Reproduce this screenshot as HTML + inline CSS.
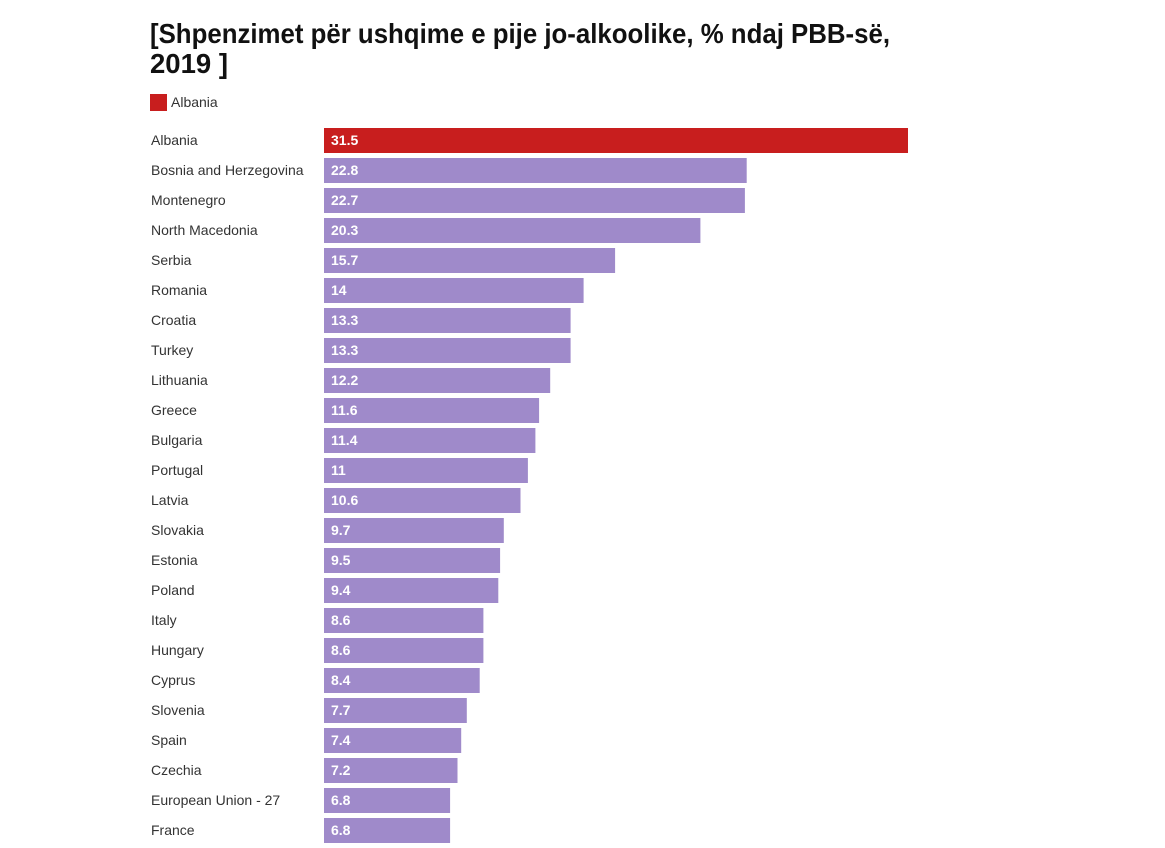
<!DOCTYPE html>
<html><head><meta charset="utf-8"><style>
html,body{margin:0;padding:0;background:#fff;}
svg{display:block;font-family:"Liberation Sans",sans-serif;}
.l{font-size:14px;fill:#333}
.v{font-size:14px;font-weight:bold;fill:#fff}
.p{fill:#9f8aca}
</style></head><body>
<svg width="1165" height="848" viewBox="0 0 1165 848">
<text x="150" y="43" font-size="28" font-weight="bold" fill="#111" textLength="740" lengthAdjust="spacingAndGlyphs">[Shpenzimet për ushqime e pije jo-alkoolike, % ndaj PBB-së,</text>
<text x="150" y="73" font-size="28" font-weight="bold" fill="#111" textLength="78" lengthAdjust="spacingAndGlyphs">2019 ]</text>
<rect x="150" y="94" width="17" height="17" fill="#c81e1e"/>
<text x="171" y="107" class="l">Albania</text>

<text x="151" y="145" class="l">Albania</text><rect x="324" y="128" width="584" height="25" fill="#c81e1e"/><text x="331" y="145" class="v">31.5</text>
<text x="151" y="175" class="l">Bosnia and Herzegovina</text><rect x="324" y="158" width="422.7" height="25" class="p"/><text x="331" y="175" class="v">22.8</text>
<text x="151" y="205" class="l">Montenegro</text><rect x="324" y="188" width="420.9" height="25" class="p"/><text x="331" y="205" class="v">22.7</text>
<text x="151" y="235" class="l">North Macedonia</text><rect x="324" y="218" width="376.4" height="25" class="p"/><text x="331" y="235" class="v">20.3</text>
<text x="151" y="265" class="l">Serbia</text><rect x="324" y="248" width="291.1" height="25" class="p"/><text x="331" y="265" class="v">15.7</text>
<text x="151" y="295" class="l">Romania</text><rect x="324" y="278" width="259.6" height="25" class="p"/><text x="331" y="295" class="v">14</text>
<text x="151" y="325" class="l">Croatia</text><rect x="324" y="308" width="246.6" height="25" class="p"/><text x="331" y="325" class="v">13.3</text>
<text x="151" y="355" class="l">Turkey</text><rect x="324" y="338" width="246.6" height="25" class="p"/><text x="331" y="355" class="v">13.3</text>
<text x="151" y="385" class="l">Lithuania</text><rect x="324" y="368" width="226.2" height="25" class="p"/><text x="331" y="385" class="v">12.2</text>
<text x="151" y="415" class="l">Greece</text><rect x="324" y="398" width="215.1" height="25" class="p"/><text x="331" y="415" class="v">11.6</text>
<text x="151" y="445" class="l">Bulgaria</text><rect x="324" y="428" width="211.4" height="25" class="p"/><text x="331" y="445" class="v">11.4</text>
<text x="151" y="475" class="l">Portugal</text><rect x="324" y="458" width="203.9" height="25" class="p"/><text x="331" y="475" class="v">11</text>
<text x="151" y="505" class="l">Latvia</text><rect x="324" y="488" width="196.5" height="25" class="p"/><text x="331" y="505" class="v">10.6</text>
<text x="151" y="535" class="l">Slovakia</text><rect x="324" y="518" width="179.8" height="25" class="p"/><text x="331" y="535" class="v">9.7</text>
<text x="151" y="565" class="l">Estonia</text><rect x="324" y="548" width="176.1" height="25" class="p"/><text x="331" y="565" class="v">9.5</text>
<text x="151" y="595" class="l">Poland</text><rect x="324" y="578" width="174.3" height="25" class="p"/><text x="331" y="595" class="v">9.4</text>
<text x="151" y="625" class="l">Italy</text><rect x="324" y="608" width="159.4" height="25" class="p"/><text x="331" y="625" class="v">8.6</text>
<text x="151" y="655" class="l">Hungary</text><rect x="324" y="638" width="159.4" height="25" class="p"/><text x="331" y="655" class="v">8.6</text>
<text x="151" y="685" class="l">Cyprus</text><rect x="324" y="668" width="155.7" height="25" class="p"/><text x="331" y="685" class="v">8.4</text>
<text x="151" y="715" class="l">Slovenia</text><rect x="324" y="698" width="142.8" height="25" class="p"/><text x="331" y="715" class="v">7.7</text>
<text x="151" y="745" class="l">Spain</text><rect x="324" y="728" width="137.2" height="25" class="p"/><text x="331" y="745" class="v">7.4</text>
<text x="151" y="775" class="l">Czechia</text><rect x="324" y="758" width="133.5" height="25" class="p"/><text x="331" y="775" class="v">7.2</text>
<text x="151" y="805" class="l">European Union - 27</text><rect x="324" y="788" width="126.1" height="25" class="p"/><text x="331" y="805" class="v">6.8</text>
<text x="151" y="835" class="l">France</text><rect x="324" y="818" width="126.1" height="25" class="p"/><text x="331" y="835" class="v">6.8</text>
</svg>
</body></html>
